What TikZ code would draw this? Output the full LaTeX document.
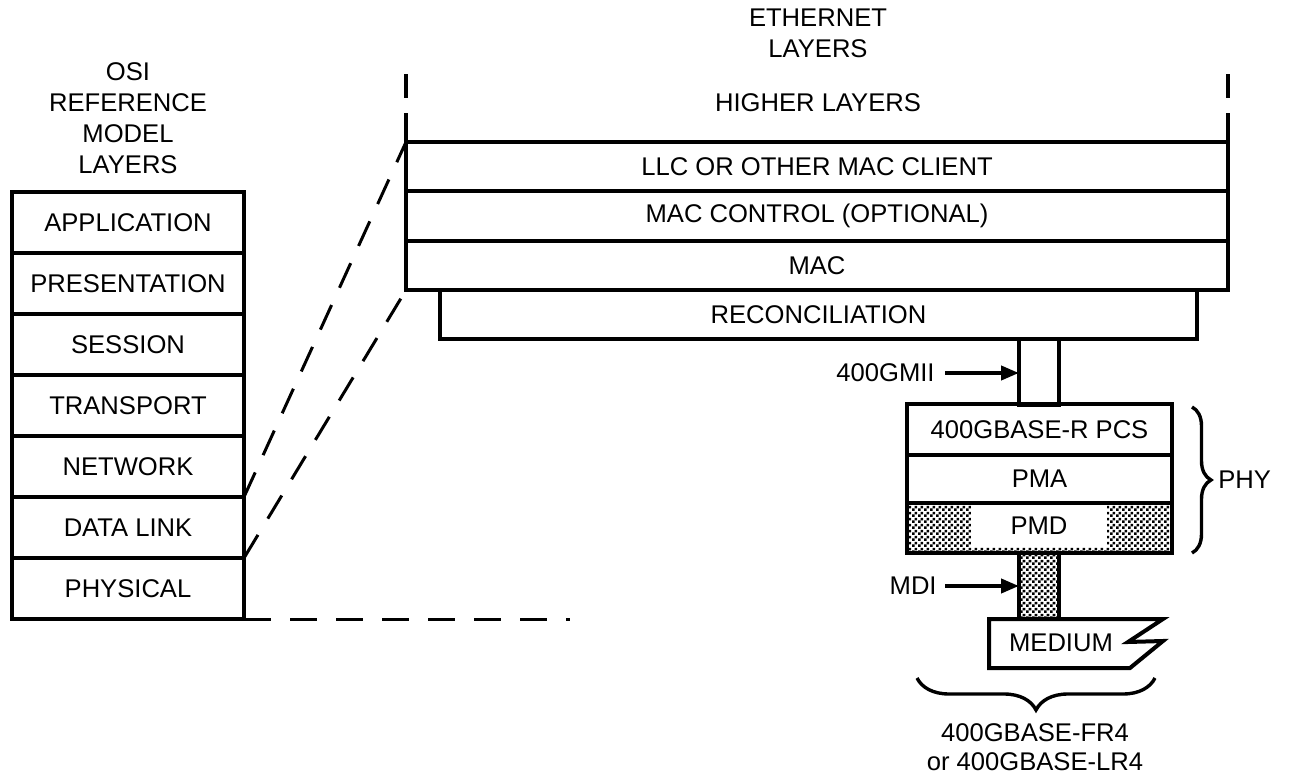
\documentclass[tikz,border=0pt]{standalone}
\usepackage{fontspec}
\setmainfont{Liberation Sans}
\usetikzlibrary{arrows.meta,decorations.pathreplacing,patterns.meta}
\tikzdeclarepattern{
  name=finecheck,
  type=uncolored,
  bounding box={(0pt,0pt) and (3pt,3pt)},
  tile size={(3pt,3pt)},
  code={
    \fill (0pt,0pt) rectangle (1.5pt,1.5pt);
    \fill (1.5pt,1.5pt) rectangle (3pt,3pt);
  }
}
\begin{document}
\begin{tikzpicture}[x=0.5pt,y=-0.5pt,
  lbl/.style={font=\fontsize{12.8}{15.5}\selectfont, inner sep=0pt, align=center},
  layerbox/.style={draw, line width=2pt, inner sep=0pt, outer sep=0pt, lbl},
  osibox/.style={layerbox, minimum width=116pt, minimum height=30.5pt},
  ethbox/.style={layerbox, minimum width=411pt},
  phybox/.style={layerbox, minimum width=132.5pt},
  barbox/.style={draw, line width=2pt, inner sep=0pt, outer sep=0pt, minimum width=20pt, minimum height=33pt},
  checker/.style={pattern={finecheck}, pattern color=black},
  dashline/.style={line width=1.5pt, dash pattern=on 13.5pt off 9.5pt},
  border/.style={line width=2pt},
  arr/.style={line width=2pt, -{Triangle[length=9pt,width=7pt]}},
  bracestyle/.style={line width=1.7pt, decorate}
]
\useasboundingbox (0,0) rectangle (1291,775);

% OSI stack
\node[lbl] (osititle) at (128,118) {OSI\\REFERENCE\\MODEL\\LAYERS};
\node[osibox] (app)   at (128,222.5) {APPLICATION};
\node[osibox] (pres)  at (128,283.5) {PRESENTATION};
\node[osibox] (sess)  at (128,344.5) {SESSION};
\node[osibox] (trans) at (128,405.5) {TRANSPORT};
\node[osibox] (net)   at (128,466.5) {NETWORK};
\node[osibox] (dl)    at (128,527.5) {DATA LINK};
\node[osibox] (phys)  at (128,588.5) {PHYSICAL};

% Ethernet layers
\node[lbl] (ethtitle) at (818,33) {ETHERNET\\LAYERS};
\node[lbl] (higher) at (818,103) {HIGHER LAYERS};
\node[ethbox, minimum height=24.5pt] (llc)  at (817,166.5) {LLC OR OTHER MAC CLIENT};
\node[ethbox, minimum height=25pt]   (macc) at (817,216) {MAC CONTROL (OPTIONAL)};
\node[ethbox, minimum height=24.5pt] (mac)  at (817,265.5) {MAC};
\node[layerbox, minimum width=378.5pt, minimum height=24.5pt] (recon) at (818.5,314.5) {RECONCILIATION};

% open-top side lines
\draw[border] (llc.north west) -- ++(0,-29);
\draw[border] (llc.north west) ++(0,-44) -- ++(0,-24);
\draw[border] (llc.north east) -- ++(0,-29);
\draw[border] (llc.north east) ++(0,-44) -- ++(0,-24);

% 400GMII
\node[barbox] (gmii) at (1039,372) {};
\coordinate (gmiistart) at (945,373);
\node[lbl, anchor=east] (gmiilbl) at (935,373) {400GMII};
\draw[arr] (gmiistart) -- (gmiistart -| gmii.west);

% PHY stack
\node[phybox, minimum height=25.5pt] (pcs) at (1039.5,429.5) {400GBASE-R PCS};
\node[phybox, minimum height=24pt]   (pma) at (1039.5,479) {PMA};
\node[phybox, minimum height=25pt, checker] (pmd) at (1039.5,528) {};
\node[lbl, fill=white, minimum width=68pt, minimum height=21pt] (pmdtxt) at (1039,526) {PMD};
\draw[border] (pmd.north west) rectangle (pmd.south east);

% PHY brace
\coordinate (phybt) at (1192,407);
\coordinate (phybb) at (1192,553);
\draw[bracestyle, decoration={brace, amplitude=9.5pt}] (phybt) -- (phybb);
\node[lbl, anchor=west] (phylbl) at (1218,480) {PHY};

% MDI
\node[barbox, checker] (mdi) at (1039,586) {};
\coordinate (mdistart) at (945,586);
\node[lbl, anchor=east] (mdilbl) at (937,586) {MDI};
\draw[arr] (mdistart) -- (mdistart -| mdi.west);

% Medium
\draw[border, fill=white, line join=miter] (989,619) -- (1163,619) -- (1128,642) -- (1163,641) -- (1130,668) -- (989,668) -- cycle;
\node[lbl] (medium) at (1061,643) {MEDIUM};

% bottom brace
\coordinate (mbr) at (1155,678);
\coordinate (mbl) at (917,678);
\draw[bracestyle, decoration={brace, amplitude=16pt}] (mbr) -- (mbl);
\node[lbl, font=\fontsize{12.8}{14.5}\selectfont] (pmdnames) at (1035,747) {400GBASE-FR4\\or 400GBASE-LR4};

% dashed mapping lines
\coordinate (hend) at (570,619);
\draw[dashline] (net.south east) -- (llc.north west);
\draw[dashline] (dl.south east) -- (mac.south west);
\draw[dashline] (phys.south east) -- (hend);
\end{tikzpicture}
\end{document}
